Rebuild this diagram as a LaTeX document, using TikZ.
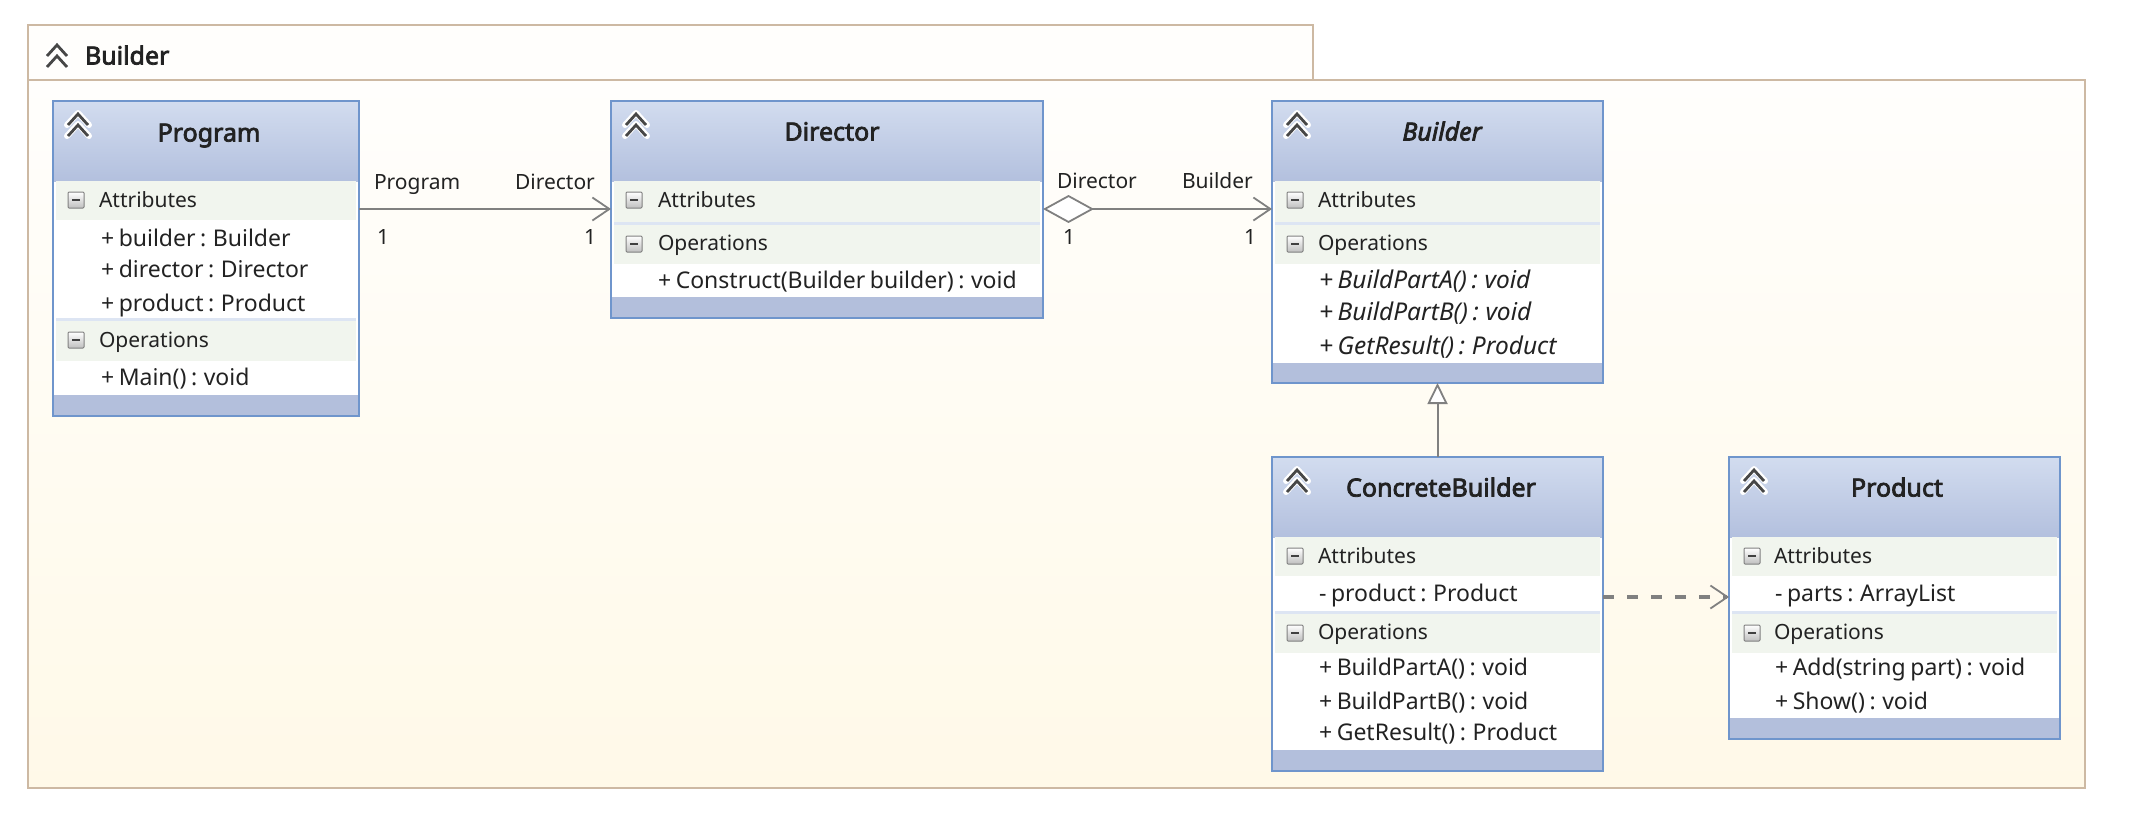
\documentclass[tikz,border=0pt]{standalone}
\usepackage{fontspec}
\setmainfont{Noto Sans}
\newfontfamily\boldfam[FakeBold=3]{Noto Sans}
\usetikzlibrary{arrows.meta,calc}
\definecolor{frameC}{HTML}{CDB9A3}
\definecolor{classC}{HTML}{6F95CC}
\definecolor{headT}{HTML}{D2DCEF}
\definecolor{headB}{HTML}{B3C0DE}
\definecolor{foot}{HTML}{B3BFDC}
\definecolor{band}{HTML}{F1F5EE}
\definecolor{sep}{HTML}{DDE5F3}
\definecolor{lineC}{HTML}{808080}
\definecolor{txt}{HTML}{222222}
\definecolor{pkgT}{HTML}{FFFEFC}
\definecolor{pkgB}{HTML}{FFF9E8}
\newcommand{\tightsp}{\spaceskip 4.6pt\relax}
\tikzset{
  every node/.style={inner sep=0pt,outer sep=0pt,text=txt},
  lbl/.style={font=\fontsize{21}{25}\selectfont,anchor=west,text height=15pt,text depth=4pt,yshift=-2pt},
  itm/.style={font=\fontsize{23}{27}\selectfont,execute at begin node={\tightsp},anchor=west,text height=15pt,text depth=4pt,yshift=-2pt},
  itmi/.style={font=\fontsize{24.5}{29}\selectfont\itshape,execute at begin node={\tightsp},anchor=west,text height=15pt,text depth=4pt,yshift=-2pt},
  ttl/.style={font=\fontsize{25}{29}\selectfont\boldfam,anchor=center,text height=16pt,text depth=5pt,yshift=-3pt},
  conn/.style={draw=lineC,line width=2pt},
  openhead/.style={-{Straight Barb[length=17pt,width=23pt,line width=1.8pt]}},
}
\newcommand{\chev}[2]{%
  \foreach \d in {-6,5}{%
    \draw[white,line width=6pt,line join=round,line cap=round] (#1-11,#2+\d+6)--(#1,#2+\d-6)--(#1+11,#2+\d+6);}%
  \foreach \d in {-6,5}{%
    \draw[black!72,line width=2.8pt,line join=miter] (#1-10,#2+\d+6)--(#1,#2+\d-5)--(#1+10,#2+\d+6);}%
}
\newcommand{\minusbox}[2]{%
  \shade[top color=white,bottom color=black!25,draw=black!50,line width=1pt,rounded corners=1pt] (#1-8,#2-8) rectangle (#1+8,#2+8);
  \draw[black!75,line width=2pt] (#1-4,#2)--(#1+4,#2);
}
\newcommand{\umlbox}[9]{%
  \def\bL{#2}\def\bT{#3}\def\bR{#4}\def\bB{#5}%
  \umlboxrest{#1}{#6}{#7}{#8}{#9}%
}
\newcommand{\umlboxrest}[5]{%
  \fill[white] (\bL,\bT) rectangle (\bR,\bB);
  \shade[top color=headT,bottom color=headB] (\bL,\bT) rectangle (\bR,\bT+80);
  \fill[band] (\bL+3,\bT+80) rectangle (\bR-3,#2);
  \fill[sep] (\bL+3,#3) rectangle (\bR-3,#3+3);
  \fill[band] (\bL+3,#3+3) rectangle (\bR-3,#4);
  \fill[foot] (\bL,#5) rectangle (\bR,\bB);
  \node[draw=classC,line width=2.5pt,anchor=north west,minimum width=\bR pt-\bL pt,minimum height=\bB pt-\bT pt] (#1) at (\bL,\bT) {};
  \chev{\bL+25}{\bT+24}
  \minusbox{\bL+23}{\bT+99}
  \minusbox{\bL+23}{#3+22}
}
\begin{document}
\begin{tikzpicture}[x=1pt,y=-1pt]
\useasboundingbox (0,0) rectangle (2140,836);
\fill[white] (0,0) rectangle (2140,836);
\fill[pkgT] (28,25) rectangle (1313,80);
\shade[top color=pkgT,bottom color=pkgB] (28,80) rectangle (2085,788);
\draw[frameC,line width=2pt] (28,80) rectangle (2085,788);
\draw[frameC,line width=2pt] (28,80)--(28,25)--(1313,25)--(1313,80);
\chev{57}{56}
\node[ttl,anchor=west] (pkg) at (85,56) {Builder};

\coordinate (rowA) at (0,209);
\coordinate (rowB) at (0,597);

\umlbox{program}{53}{101}{359}{416}{220}{318}{361}{395}
\umlbox{director}{611}{101}{1043}{318}{222}{222}{264}{297}
\umlbox{builder}{1272}{101}{1603}{383}{222}{222}{264}{363}
\umlbox{concrete}{1272}{457}{1603}{771}{576}{611}{653}{750}
\umlbox{product}{1729}{457}{2060}{739}{576}{611}{653}{718}

% Program
\node[ttl] (t1) at (209,133) {Program};
\node[lbl] (a1) at (99,200) {Attributes};
\node[itm] (a2) at (101,239) {+ builder : Builder};
\node[itm] (a3) at (101,270) {+ director : Director};
\node[itm] (a4) at (101,304) {+ product : Product};
\node[lbl] (a5) at (99,340) {Operations};
\node[itm] (a6) at (101,378) {+ Main() : void};
% Director
\node[ttl] (t2) at (832,132) {Director};
\node[lbl] (b1) at (658,200) {Attributes};
\node[lbl] (b2) at (658,243) {Operations};
\node[itm] (b3) at (658,281) {+ Construct(Builder builder) : void};
% Builder
\node[ttl,font=\fontsize{25}{29}\selectfont\boldfam\itshape] (t3) at (1442,132) {Builder};
\node[lbl] (c1) at (1318,200) {Attributes};
\node[lbl] (c2) at (1318,243) {Operations};
\node[itmi] (c3) at (1319,281) {+ BuildPartA() : void};
\node[itmi] (c4) at (1319,313) {+ BuildPartB() : void};
\node[itmi] (c5) at (1319,347) {+ GetResult() : Product};
% ConcreteBuilder
\node[ttl] (t4) at (1441,488) {ConcreteBuilder};
\node[lbl] (d1) at (1318,556) {Attributes};
\node[itm] (d2) at (1319,594) {- product : Product};
\node[lbl] (d3) at (1318,632) {Operations};
\node[itm] (d4) at (1319,668) {+ BuildPartA() : void};
\node[itm] (d5) at (1319,702) {+ BuildPartB() : void};
\node[itm] (d6) at (1319,733) {+ GetResult() : Product};
% Product
\node[ttl] (t5) at (1897,488) {Product};
\node[lbl] (e1) at (1774,556) {Attributes};
\node[itm] (e2) at (1775,594) {- parts : ArrayList};
\node[lbl] (e3) at (1774,632) {Operations};
\node[itm] (e4) at (1775,668) {+ Add(string part) : void};
\node[itm] (e5) at (1775,702) {+ Show() : void};

% connectors
\draw[conn,openhead] (program.east |- rowA) -- (director.west |- rowA);
\draw[conn,{Diamond[open,fill=white,length=51pt,width=28pt,line width=1.8pt]}-{Straight Barb[length=17pt,width=23pt,line width=1.8pt]}] (director.east |- rowA) -- (builder.west |- rowA);
\draw[conn,-{Triangle[open,fill=white,length=21pt,width=20pt,line width=1.8pt]}] (concrete.north) -- (builder.south);
\draw[draw=lineC,line width=3.5pt,dash pattern=on 11pt off 13pt,-{Straight Barb[length=17pt,width=23pt,line width=1.8pt]}] (concrete.east |- rowB) -- (product.west |- rowB);

\node[lbl] (l1) at (374,182) {Program};
\node[lbl] (l2) at (515,182) {Director};
\node[lbl] (l3) at (377,237) {1};
\node[lbl] (l4) at (584,237) {1};
\node[lbl] (l5) at (1057,181) {Director};
\node[lbl] (l6) at (1182,181) {Builder};
\node[lbl] (l7) at (1063,237) {1};
\node[lbl] (l8) at (1244,237) {1};
\end{tikzpicture}
\end{document}
